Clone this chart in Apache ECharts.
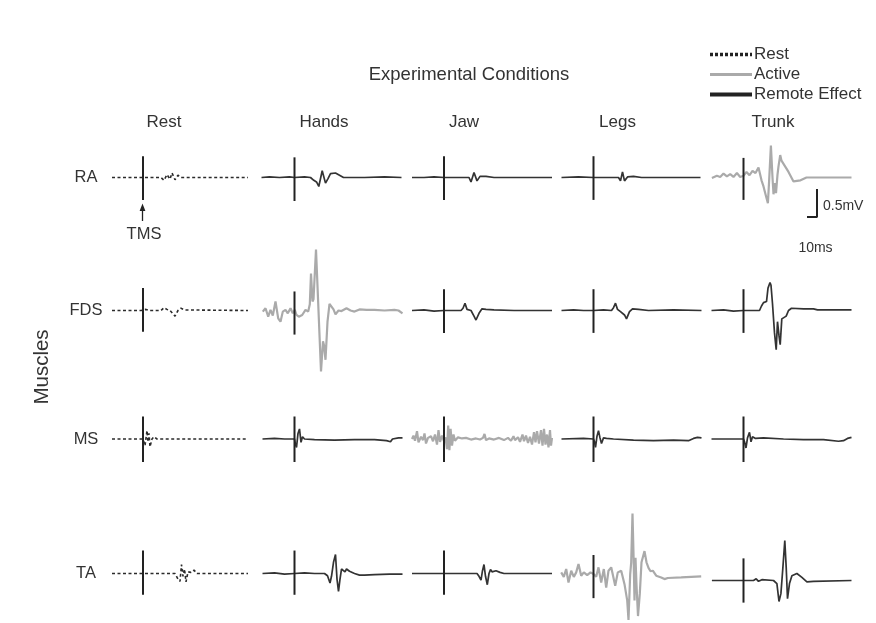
<!DOCTYPE html>
<html lang="en">
<head>
<meta charset="UTF-8">
<title>Experimental Conditions</title>
<script src="https://cdn.jsdelivr.net/npm/echarts@6/dist/echarts.min.js"></script>
<style>
  html, body { margin: 0; padding: 0; background: #fff; }
  #main { width: 876px; height: 623px; }
</style>
</head>
<body>
<div id="main"></div>
<script>
// columns / rows of the figure
var conditions = ['Rest', 'Hands', 'Jaw', 'Legs', 'Trunk'];
var muscles = ['RA', 'FDS', 'MS', 'TA'];
// the condition in which each muscle is itself active
var activeFor = { RA: 'Trunk', FDS: 'Hands', MS: 'Jaw', TA: 'Legs' };
var legendNames = ['Rest', 'Active', 'Remote Effect'];

// traces: [ms from TMS pulse, mV]
var raRest = [[-31, 0], [18, 0], [21, -0.05], [24, 0.05], [27, -0.03], [29, 0.08], [32, -0.04], [35, 0.04], [38, 0], [105, 0]];
var raHands = [[-33, 0], [-25, 0.01], [-15, 0], [-5, 0.01], [0, 0], [10, 0.01], [16, 0], [19.3, -0.05], [22, -0.08], [24.3, -0.16], [27.7, 0.12], [31, -0.1], [33.5, -0.02], [36, 0.07], [41, 0.08], [45, 0.04], [49, 0], [70, 0], [90, 0.01], [107, 0]];
var raJaw = [[-32, 0], [-20, 0], [-10, 0.01], [0, 0], [10, 0], [25, 0], [27, -0.08], [30, 0.09], [33, -0.06], [36, 0.02], [42, 0.02], [50, 0], [108, 0]];
var raLegs = [[-32, 0], [-15, 0.01], [0, 0], [15, 0], [25, 0], [27, -0.06], [29, 0.1], [31, -0.06], [34, 0.01], [40, 0.02], [48, 0], [107, 0]];
var raTrunk = [[-31.6, -0.01], [-26.6, 0.03], [-23.3, 0.01], [-20, 0.07], [-16.6, 0.02], [-13.3, 0.06], [-10, 0.01], [-6.6, 0.08], [-3.3, 0.01], [0, 0.03],
  [3, 0.1], [6, 0.04], [9, 0.12], [12, 0.08], [15, 0.18], [18, -0.05], [20, -0.16], [22, -0.3], [24.4, -0.46], [25.5, -0.1], [27.4, 0.57], [29, 0.0],
  [30, -0.3], [31, -0.1], [32.5, -0.28], [34, 0.05], [35, 0.2], [36.7, 0.4], [38, 0.3], [40, 0.32], [45, 0.1], [50, -0.07], [57, -0.05], [63, 0], [108, 0]];

var fdsRest = [[-31, 0], [-2, 0], [0, -0.03], [3, 0.02], [6, 0], [18, 0], [21, 0.05], [24, 0.02], [27, 0], [30, -0.06], [32, -0.1], [35, 0], [38, 0.04], [42, 0.01], [105, 0]];
var fdsHands = [[-31.7, -0.02], [-29, 0.04], [-26.3, -0.11], [-24, 0.01], [-21.7, -0.09], [-19, 0.16], [-16.3, -0.14], [-14, -0.2], [-11.7, -0.02], [-9, 0.01],
  [-6.7, -0.05], [-4, 0.04], [-1.7, -0.05], [0.3, 0.01], [2, -0.08], [4.3, -0.11], [7.7, -0.08], [11, 0.01], [13.7, -0.02], [15.3, 0.11], [16.5, 0.66],
  [17.5, 0.68], [18, 0.16], [19, 0.2], [21.5, 1.09], [26.5, -1.09], [28.5, -0.55], [29.5, -0.62], [31, -0.88], [33, -0.2], [35, 0.12], [37, 0.13],
  [39, 0.02], [41, -0.07], [44, 0.0], [47, -0.01], [52, 0.04], [56, 0.0], [60, -0.02], [65, 0.02], [72, 0.01], [80, 0.01], [90, 0.0], [100, 0.01], [104, 0.0], [108, -0.05]];
var fdsJaw = [[-32, 0], [-20, 0.01], [-10, -0.01], [0, 0], [10, 0], [17, 0], [19, 0.04], [21, 0.13], [23, 0.02], [27, 0], [30, -0.1], [32, -0.17], [35, -0.05], [38, 0.03], [42, 0.02], [50, 0.01], [70, 0], [108, 0]];
var fdsLegs = [[-32, 0], [-20, 0.01], [-10, 0], [0, 0], [10, 0.01], [18, 0], [20, 0.05], [22, 0.13], [24, 0.02], [27, -0.02], [29, 0], [31, -0.08], [33, -0.15], [36, -0.02], [39, 0.03], [45, 0.02], [55, 0], [80, 0.01], [108, 0]];
var fdsTrunk = [[-32, 0], [-20, 0.01], [-10, -0.01], [0, 0], [10, 0], [16, 0], [18, 0.08], [20, 0.14], [23, 0.16], [24.5, 0.4], [26.5, 0.5], [27.5, 0.45], [29, 0.12],
  [31, -0.4], [32.7, -0.7], [34, -0.2], [35.5, -0.45], [36.7, -0.61], [38.3, -0.15], [40, -0.12], [42.7, -0.1], [45, 0], [48, 0.04], [60, 0.03], [70, 0.03], [72, 0.06], [74, 0.01], [80, 0.01], [108, 0.01]];

var msRest = [[-31, 0], [0, 0], [2, -0.12], [4, 0.15], [5, -0.05], [6, 0.1], [7, -0.14], [9, 0], [11, 0.04], [14, 0], [105, 0]];
var msHands = [[-32, 0], [-20, 0.01], [-10, 0], [0, 0], [1, -0.1], [2, -0.15], [3.5, 0.1], [5, 0.18], [6.5, -0.06], [8, 0.04], [10, 0], [20, -0.01], [40, -0.02], [60, -0.01], [80, -0.01], [92, -0.03], [96, -0.05], [98, 0], [104, 0.02], [108, 0.02]];
var msJaw = [[-32, 0], [-30.5, 0.06], [-29, -0.03], [-27, 0.14], [-25.5, -0.06], [-23, 0.04], [-21, -0.02], [-19.5, 0.1], [-18, -0.08], [-16, 0.02], [-13, 0.05],
  [-11, -0.04], [-9, 0.08], [-7, -0.1], [-5.5, 0.16], [-4, -0.05], [-2, 0.06], [0, -0.04], [1.5, 0.03], [3, -0.18], [4.2, 0.24], [5.4, -0.2], [6.6, 0.18],
  [8, -0.12], [9.5, 0.08], [11, -0.03], [14, 0.03], [18, 0.01], [22, 0.02], [27, -0.01], [32, 0.01], [36, -0.01], [39, 0.02], [40.5, 0.09], [42, -0.02],
  [45, 0.01], [50, -0.01], [55, 0.02], [60, -0.02], [64, 0.02], [67, -0.03], [69.5, 0.05], [71, -0.02], [74, 0.03], [76, -0.05], [78.5, 0.08], [80, -0.04],
  [82, 0.06], [84, -0.07], [86, 0.04], [88, -0.1], [90, 0.12], [91.5, -0.06], [93, 0.14], [95, -0.08], [97, 0.16], [98.5, -0.12], [100, 0.18], [101.5, -0.1],
  [103, 0.08], [104.5, -0.15], [106, 0.16], [107, -0.12], [108, 0.02]];
var msLegs = [[-32, 0], [-10, 0.01], [0, 0], [1, -0.05], [2, -0.15], [3.5, 0.05], [5, 0.15], [6.5, 0.02], [8, -0.08], [10, 0.02], [13, 0.01], [20, 0], [40, -0.02], [60, -0.03], [80, -0.02], [95, -0.03], [100, 0.01], [104, 0.03], [108, 0.02]];
var msTrunk = [[-32, 0], [0, 0], [1, -0.05], [2.5, -0.16], [4, 0.02], [6, 0.12], [7.5, -0.05], [9, 0.04], [12, 0.01], [20, 0.02], [40, 0], [60, -0.01], [80, -0.01], [95, -0.04], [100, -0.03], [104, 0.01], [108, 0.03]];

var taRest = [[-31, 0], [32, 0], [35, -0.1], [37, -0.14], [38.5, 0.16], [40, -0.05], [41.5, 0.08], [43, -0.15], [45, 0.03], [48, 0.02], [51, 0.06], [54, 0], [105, 0]];
var taHands = [[-32, 0], [-20, 0.01], [-10, -0.01], [0, 0], [10, 0.01], [20, 0], [30, 0], [33, -0.04], [35.5, -0.17], [37, -0.05], [39, 0.2], [41, 0.34], [42.5, -0.1],
  [44, -0.32], [45.5, -0.1], [47, 0.08], [48.7, 0.1], [50.5, 0.03], [52, 0.08], [55, 0.04], [60, 0.0], [65, -0.03], [70, -0.03], [80, -0.02], [95, -0.01], [108, -0.01]];
var taJaw = [[-32, 0], [0, 0], [20, 0], [33, 0], [35, -0.05], [37, -0.12], [38.5, 0.05], [40, 0.16], [41.5, -0.05], [43.3, -0.2], [45, 0.0], [46.5, 0.07], [48, 0.03], [52, 0.05], [56, 0.02], [60, 0], [108, 0]];
var taLegs = [[-32.3, 0.02], [-29.7, -0.06], [-27.3, 0.08], [-25, -0.16], [-22.3, 0.05], [-19.7, -0.06], [-17.3, 0.02], [-15, 0.17], [-12.3, -0.04], [-9.7, 0.02],
  [-6.3, -0.03], [-3, 0.02], [0, -0.01], [2.7, -0.06], [5, 0.11], [7.7, -0.16], [10.3, 0.08], [12.7, -0.25], [15, 0.05], [17.7, 0.11], [19.3, 0.14], [21.7, -0.22],
  [24.3, 0.02], [27.7, 0.05], [31, -0.19], [33.7, -0.48], [35, -0.83], [36.7, -0.01], [37.7, 0.2], [39, 1.07], [40, 0.35], [41, -0.48], [42, 0.28], [43, -0.2],
  [44.5, -0.76], [46.3, -0.36], [48, 0.2], [51, 0.4], [53, 0.2], [55, 0.1], [57, 0.04], [59.3, 0.05], [62.7, -0.04], [67.7, -0.07], [71, -0.1], [74.3, -0.08], [87.7, -0.07], [107.7, -0.05]];
var taTrunk = [[-31.6, -0.125], [0, -0.125], [10, -0.125], [12.7, -0.095], [15, -0.14], [18.4, -0.11], [30, -0.125], [33.4, -0.18], [35.5, -0.5], [37.4, -0.36],
  [39.4, 0.11], [41.3, 0.59], [42.7, 0.11], [44, -0.45], [46, -0.18], [48.4, -0.04], [53.4, 0.0], [58.4, -0.07], [63.4, -0.15], [70, -0.14], [108, -0.125]];

var traces = {
  RA: [raRest, raHands, raJaw, raLegs, raTrunk],
  FDS: [fdsRest, fdsHands, fdsJaw, fdsLegs, fdsTrunk],
  MS: [msRest, msHands, msJaw, msLegs, msTrunk],
  TA: [taRest, taHands, taJaw, taLegs, taTrunk]
};
// TMS artefact extent [top, bottom] in mV, per muscle row and condition
var tmsSpan = {
  RA: [[0.38, -0.4], [0.36, -0.42], [0.38, -0.4], [0.38, -0.4], [0.35, -0.4]],
  FDS: [[0.4, -0.38], [0.34, -0.43], [0.38, -0.4], [0.38, -0.4], [0.38, -0.4]],
  MS: [[0.4, -0.41], [0.4, -0.41], [0.4, -0.41], [0.4, -0.41], [0.4, -0.41]],
  TA: [[0.41, -0.38], [0.41, -0.38], [0.41, -0.38], [0.33, -0.44], [0.27, -0.52]]
};
// scale bar: 10 ms, 0.5 mV
var scaleBar = [[10, 0.5], [10, 0], [0, 0]];

// layout (px)
var colTms = [143, 294.5, 444, 593.5, 743.5];
var rowBase = [177.5, 310.5, 439, 573.5];
var colTitleX = [164, 324, 464, 617.5, 773];
var tMin = -32, tMax = 108, vMax = 0.85, pxPerMv = 56;

var font = '"Liberation Sans", Arial, sans-serif';
var txt = '#333';
var styles = {
  'Rest': { color: '#2b2b2b', width: 1.6, type: [3, 2.5] },
  'Active': { color: '#aaaaaa', width: 2.2, type: 'solid' },
  'Remote Effect': { color: '#333333', width: 1.7, type: 'solid' }
};

var grid = [], xAxis = [], yAxis = [], series = [];
muscles.forEach(function (m, r) {
  conditions.forEach(function (cond, c) {
    var i = grid.length;
    var h = vMax * 2 * pxPerMv;
    grid.push({ left: colTms[c] + tMin, top: rowBase[r] - h / 2, width: tMax - tMin, height: h });
    xAxis.push({ type: 'value', gridIndex: i, min: tMin, max: tMax, show: false });
    yAxis.push({ type: 'value', gridIndex: i, min: -vMax, max: vMax, show: false });
    var kind = c === 0 ? 'Rest' : (activeFor[m] === cond ? 'Active' : 'Remote Effect');
    series.push({
      name: kind, type: 'line', xAxisIndex: i, yAxisIndex: i,
      data: traces[m][c], symbol: 'none', clip: false, silent: true,
      itemStyle: { color: styles[kind].color },
      lineStyle: styles[kind]
    });
    var span = tmsSpan[m][c];
    series.push({
      name: 'TMS', type: 'line', xAxisIndex: i, yAxisIndex: i,
      data: [[0, span[0]], [0, span[1]]], symbol: 'none', clip: false, silent: true,
      lineStyle: { color: '#222', width: 2 }
    });
  });
});

// scale bar grid, same ms/mV scale as the panels
var sb = grid.length;
grid.push({ left: 807, top: 189, width: 10, height: 0.5 * pxPerMv });
xAxis.push({ type: 'value', gridIndex: sb, min: 0, max: 10, show: false });
yAxis.push({ type: 'value', gridIndex: sb, min: 0, max: 0.5, show: false });
series.push({
  name: 'scale', type: 'line', xAxisIndex: sb, yAxisIndex: sb, data: scaleBar,
  symbol: 'none', clip: false, silent: true, lineStyle: { color: '#222', width: 2 }
});

function label(text, x, y, size, align, extra) {
  var el = {
    type: 'text', x: x, y: y, silent: true,
    style: { text: text, fill: txt, font: size + 'px ' + font, align: align || 'center', verticalAlign: 'middle' }
  };
  if (extra) Object.keys(extra).forEach(function (k) { el[k] = extra[k]; });
  return el;
}

var graphic = [label('Experimental Conditions', 469, 75, 18.5)];
conditions.forEach(function (cond, c) { graphic.push(label(cond, colTitleX[c], 122, 17)); });
muscles.forEach(function (m, r) { graphic.push(label(m, 86, rowBase[r], 16.5)); });
graphic.push(label('Muscles', 42, 367, 20.5, 'center', { rotation: Math.PI / 2 }));
graphic.push(label('TMS', 144, 234.5, 16.5));
graphic.push({ type: 'line', silent: true, shape: { x1: 142.5, y1: 221, x2: 142.5, y2: 209 }, style: { stroke: '#222', lineWidth: 1.3 } });
graphic.push({ type: 'polygon', silent: true, shape: { points: [[142.5, 203.5], [139.6, 211], [145.4, 211]] }, style: { fill: '#222' } });
graphic.push(label('0.5mV', 823, 206, 14, 'left'));
graphic.push(label('10ms', 815.5, 248, 14));

var chart = echarts.init(document.getElementById('main'));
chart.setOption({
  animation: false,
  backgroundColor: '#fff',
  legend: {
    orient: 'vertical', left: 708, top: 46, padding: 0,
    itemWidth: 42, itemHeight: 12, itemGap: 3, selectedMode: false,
    itemStyle: { opacity: 0 },
    textStyle: { fontSize: 17, color: txt, fontFamily: font, padding: [0, 0, 0, -3] },
    data: [
      { name: 'Rest', lineStyle: { type: [3, 2], width: 3.5, color: '#222' } },
      { name: 'Active', lineStyle: { width: 3, color: '#aaaaaa' } },
      { name: 'Remote Effect', lineStyle: { width: 4, color: '#222' } }
    ]
  },
  grid: grid,
  xAxis: xAxis,
  yAxis: yAxis,
  graphic: graphic,
  series: series
});
</script>
</body>
</html>
